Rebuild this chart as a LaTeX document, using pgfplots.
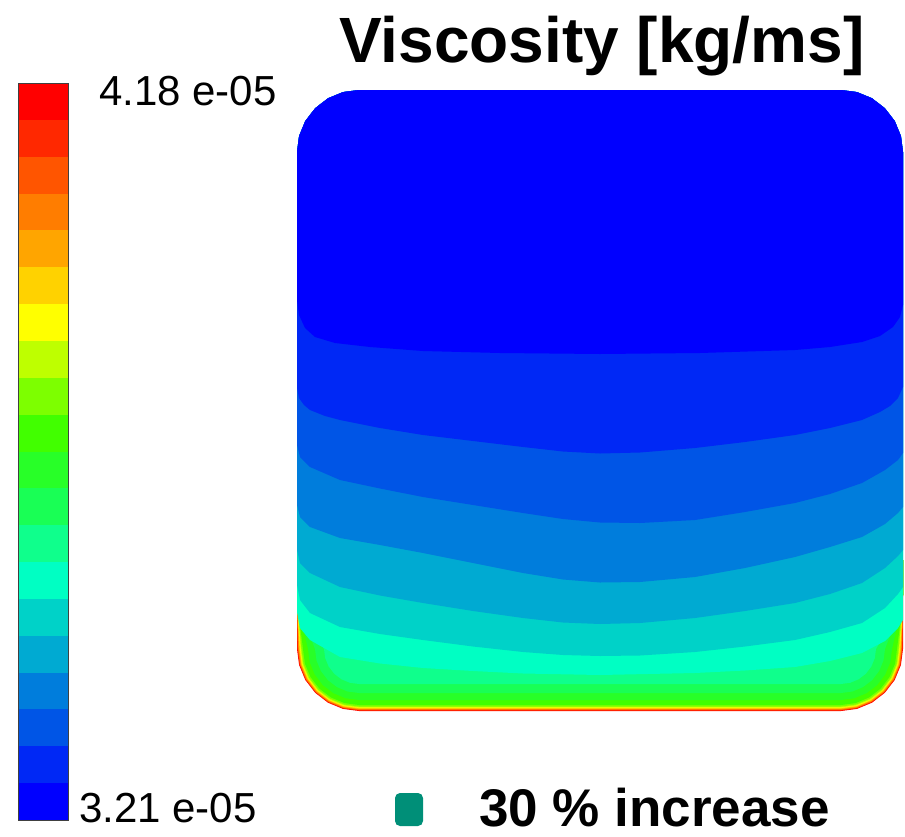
\documentclass[border=0pt]{standalone}
\usepackage{pgfplots}
\pgfplotsset{compat=1.18}
\usepackage{fontspec}
\setmainfont{Liberation Sans}
\definecolor{c0}{RGB}{0,0,255}
\definecolor{c1}{RGB}{0,40,245}
\definecolor{c2}{RGB}{0,85,230}
\definecolor{c3}{RGB}{0,125,220}
\definecolor{c4}{RGB}{0,170,210}
\definecolor{c5}{RGB}{0,210,200}
\definecolor{c6}{RGB}{0,255,195}
\definecolor{c7}{RGB}{15,255,140}
\definecolor{c8}{RGB}{25,255,85}
\definecolor{c9}{RGB}{40,255,40}
\definecolor{c10}{RGB}{65,255,0}
\definecolor{c11}{RGB}{125,255,0}
\definecolor{c12}{RGB}{190,255,0}
\definecolor{c13}{RGB}{255,255,0}
\definecolor{c14}{RGB}{255,210,0}
\definecolor{c15}{RGB}{255,165,0}
\definecolor{c16}{RGB}{255,125,0}
\definecolor{c17}{RGB}{255,85,0}
\definecolor{c18}{RGB}{255,40,0}
\definecolor{c19}{RGB}{255,0,0}
\definecolor{mark}{RGB}{0,143,120}
\begin{document}
\begin{tikzpicture}
\begin{axis}[width=905pt,height=836pt,scale only axis,
  xmin=0,xmax=905,ymin=0,ymax=836,y dir=reverse,hide axis,clip=false]
\path (axis cs:0,0) rectangle (axis cs:905,836);
% ---- colour bar (20 levels, 3.21e-05 ... 4.18e-05)
\addplot[fill=c0,draw=none] coordinates {(18,820)(68,820)(68,783.15)(18,783.15)} -- cycle;
\addplot[fill=c1,draw=none] coordinates {(18,783.15)(68,783.15)(68,746.3)(18,746.3)} -- cycle;
\addplot[fill=c2,draw=none] coordinates {(18,746.3)(68,746.3)(68,709.45)(18,709.45)} -- cycle;
\addplot[fill=c3,draw=none] coordinates {(18,709.45)(68,709.45)(68,672.6)(18,672.6)} -- cycle;
\addplot[fill=c4,draw=none] coordinates {(18,672.6)(68,672.6)(68,635.75)(18,635.75)} -- cycle;
\addplot[fill=c5,draw=none] coordinates {(18,635.75)(68,635.75)(68,598.9)(18,598.9)} -- cycle;
\addplot[fill=c6,draw=none] coordinates {(18,598.9)(68,598.9)(68,562.05)(18,562.05)} -- cycle;
\addplot[fill=c7,draw=none] coordinates {(18,562.05)(68,562.05)(68,525.2)(18,525.2)} -- cycle;
\addplot[fill=c8,draw=none] coordinates {(18,525.2)(68,525.2)(68,488.35)(18,488.35)} -- cycle;
\addplot[fill=c9,draw=none] coordinates {(18,488.35)(68,488.35)(68,451.5)(18,451.5)} -- cycle;
\addplot[fill=c10,draw=none] coordinates {(18,451.5)(68,451.5)(68,414.65)(18,414.65)} -- cycle;
\addplot[fill=c11,draw=none] coordinates {(18,414.65)(68,414.65)(68,377.8)(18,377.8)} -- cycle;
\addplot[fill=c12,draw=none] coordinates {(18,377.8)(68,377.8)(68,340.95)(18,340.95)} -- cycle;
\addplot[fill=c13,draw=none] coordinates {(18,340.95)(68,340.95)(68,304.1)(18,304.1)} -- cycle;
\addplot[fill=c14,draw=none] coordinates {(18,304.1)(68,304.1)(68,267.25)(18,267.25)} -- cycle;
\addplot[fill=c15,draw=none] coordinates {(18,267.25)(68,267.25)(68,230.4)(18,230.4)} -- cycle;
\addplot[fill=c16,draw=none] coordinates {(18,230.4)(68,230.4)(68,193.55)(18,193.55)} -- cycle;
\addplot[fill=c17,draw=none] coordinates {(18,193.55)(68,193.55)(68,156.7)(18,156.7)} -- cycle;
\addplot[fill=c18,draw=none] coordinates {(18,156.7)(68,156.7)(68,119.85)(18,119.85)} -- cycle;
\addplot[fill=c19,draw=none] coordinates {(18,119.85)(68,119.85)(68,83)(18,83)} -- cycle;
\addplot[draw=black!75,line width=1pt] coordinates {(18,83)(68,83)(68,820)(18,820)} -- cycle;
% ---- contour field: thin bands near bottom wall (value high)
\addplot[fill=c19,draw=none] coordinates {(297,560)(297,649)(299.1,665)(305.3,680)(315.2,692.8)(328,702.7)(343,708.9)(359,711)(841,711)(857,708.9)(872,702.7)(884.8,692.8)(894.7,680)(900.9,665)(903,649)(903,560)} -- cycle;
\addplot[fill=c18,draw=none] coordinates {(297,560)(297,595)(297.25,625)(297.5,649)(299.6,664.9)(305.7,679.8)(315.5,692.5)(328.3,702.3)(343.1,708.4)(359,710.5)(841,710.5)(856.9,708.4)(871.3,702.3)(884.5,692.5)(894.3,679.8)(900.4,664.9)(902.5,649)(902.75,625)(903,595)(903,560)} -- cycle;
\addplot[fill=c17,draw=none] coordinates {(297,560)(297,595)(297.45,625)(297.9,649)(300,664.8)(306.1,679.6)(315.8,692.2)(328.5,701.9)(343.2,708)(359,710.1)(841,710.1)(856.8,708)(871.5,701.9)(884.2,692.2)(893.9,679.6)(900,664.8)(902.1,649)(902.55,625)(903,595)(903,560)} -- cycle;
\addplot[fill=c16,draw=none] coordinates {(297,560)(297,595)(297.65,625)(298.3,649)(300.4,664.7)(306.4,679.4)(316.1,691.9)(328.7,701.6)(343.3,707.6)(359,709.7)(841,709.7)(856.7,707.6)(871.4,701.6)(883.9,691.9)(893.6,679.4)(899.6,664.7)(901.7,649)(902.35,625)(903,595)(903,560)} -- cycle;
\addplot[fill=c15,draw=none] coordinates {(297,560)(297,595)(297.9,625)(298.8,649)(300.9,664.6)(306.9,679.1)(316.4,691.6)(328.9,701.1)(343.4,707.2)(359,709.2)(841,709.2)(856.6,707.2)(871.1,701.1)(883.6,691.6)(893.1,679.1)(899.2,664.6)(901.2,649)(902.1,625)(903,595)(903,560)} -- cycle;
\addplot[fill=c14,draw=none] coordinates {(297,560)(297,595)(298.2,625)(299.4,649)(301.4,664.4)(307.4,678.8)(316.9,691.1)(329.2,700.6)(343.6,706.6)(359,708.6)(841,708.6)(856.4,706.6)(870.8,700.6)(883.1,691.1)(892.6,678.8)(898.6,664.4)(900.6,649)(901.8,625)(903,595)(903,560)} -- cycle;
\addplot[fill=c13,draw=none] coordinates {(297,560)(297,595)(298.5,625)(300,649)(302,664.3)(307.9,678.5)(317.3,690.7)(329.5,700.1)(343.7,706)(359,708)(841,708)(856.3,706)(870.5,700.1)(882.7,690.7)(892.1,678.5)(898,664.3)(900,649)(901.5,625)(903,595)(903,560)} -- cycle;
\addplot[fill=c12,draw=none] coordinates {(297,560)(297,595)(298.8,625)(300.6,649)(302.6,664.1)(308.4,678.2)(317.7,690.3)(329.8,699.6)(343.9,705.4)(359,707.4)(841,707.4)(856.1,705.4)(870.2,699.6)(882.3,690.3)(891.6,678.2)(897.4,664.1)(899.4,649)(901.2,625)(903,595)(903,560)} -- cycle;
\addplot[fill=c11,draw=none] coordinates {(297,560)(297,595)(299.25,625)(301.5,649)(303.5,663.9)(309.2,677.8)(318.3,689.7)(330.3,698.8)(344.1,704.5)(359,706.5)(841,706.5)(855.9,704.5)(869.7,698.8)(881.7,689.7)(890.8,677.8)(896.5,663.9)(898.5,649)(900.75,625)(903,595)(903,560)} -- cycle;
\addplot[fill=c10,draw=none] coordinates {(297,560)(297,595)(300,625)(303,649)(304.9,663.5)(310.5,677)(319.4,688.6)(331,697.5)(344.5,703.1)(359,705)(841,705)(855.5,703.1)(869,697.5)(880.6,688.6)(889.5,677)(895.1,663.5)(897,649)(900,625)(903,595)(903,560)} -- cycle;
\addplot[fill=c9,draw=none] coordinates {(297,560)(297,595)(302.5,625)(308,649)(309.7,662.2)(314.8,674.5)(322.9,685.1)(333.5,693.2)(345.8,698.3)(359,700)(841,700)(854.2,698.3)(866.5,693.2)(877.1,685.1)(885.2,674.5)(890.3,662.2)(892,649)(897.5,625)(903,595)(903,560)} -- cycle;
\addplot[fill=c8,draw=none] coordinates {(297,560)(297,595)(306,625)(315,649)(316.5,660.4)(320.9,671)(327.9,680.1)(337,687.1)(347.6,691.5)(359,693)(841,693)(852.4,691.5)(863,687.1)(872.1,680.1)(879.1,671)(883.5,660.4)(885,649)(894,625)(903,595)(903,560)} -- cycle;
\addplot[fill=c7,draw=none] coordinates {(297,560)(297,595)(310.5,625)(324,649)(325.2,658.1)(328.7,666.5)(334.3,673.8)(341.5,679.3)(349.9,682.8)(359,684)(841,684)(850.1,682.8)(858.5,679.3)(865.8,673.8)(871.3,666.5)(874.8,658.1)(876,649)(889.5,625)(903,595)(903,560)} -- cycle;
% ---- contour field: main bands (regions above each contour line)
\addplot[fill=c6,draw=none] coordinates {(297,612)(300,628)(310,640)(340,657)(380,663.5)(423,668)(473,671)(523,673.5)(600,675)(695,673)(745,670.5)(795,667)(830,661)(862,653)(885,641)(898,628)(903,620)
 (903,152)(900.9,136)(894.7,121)(884.8,108.2)(872,98.3)(857,92.1)(841,90)(359,90)(343,92.1)(328,98.3)(315.2,108.2)(305.3,121)(299.1,136)(297,152)} -- cycle;
\addplot[fill=c5,draw=none] coordinates {(297,585)(300,600)(310,613)(340,627)(380,634)(423,640)(473,646.5)(523,652)(563,655)(600,656)(640,655.5)(695,652)(745,646.5)(795,640)(830,632)(862,623)(885,608)(898,594)(903,587)
 (903,152)(900.9,136)(894.7,121)(884.8,108.2)(872,98.3)(857,92.1)(841,90)(359,90)(343,92.1)(328,98.3)(315.2,108.2)(305.3,121)(299.1,136)(297,152)} -- cycle;
\addplot[fill=c4,draw=none] coordinates {(297,550)(300,563)(310,573)(340,587)(380,595.5)(423,603)(473,611)(523,618)(563,622.5)(600,624)(640,623)(695,618)(745,611)(795,603)(830,594)(862,583)(885,568)(898,556)(903,550)
 (903,152)(900.9,136)(894.7,121)(884.8,108.2)(872,98.3)(857,92.1)(841,90)(359,90)(343,92.1)(328,98.3)(315.2,108.2)(305.3,121)(299.1,136)(297,152)} -- cycle;
\addplot[fill=c3,draw=none] coordinates {(297,505)(300,517)(310,527)(340,538)(380,545)(423,553)(473,563)(523,573)(563,579.5)(600,582.5)(640,582)(695,577)(745,568)(795,557)(830,547)(862,537)(885,524)(898,513)(903,507)
 (903,152)(900.9,136)(894.7,121)(884.8,108.2)(872,98.3)(857,92.1)(841,90)(359,90)(343,92.1)(328,98.3)(315.2,108.2)(305.3,121)(299.1,136)(297,152)} -- cycle;
\addplot[fill=c2,draw=none] coordinates {(297,445)(300,457)(310,467)(340,480)(380,488.5)(423,497)(473,505)(523,513)(563,519)(600,522.5)(640,523)(695,520)(745,512)(795,503)(830,494)(862,483)(885,470)(898,460)(903,453)
 (903,152)(900.9,136)(894.7,121)(884.8,108.2)(872,98.3)(857,92.1)(841,90)(359,90)(343,92.1)(328,98.3)(315.2,108.2)(305.3,121)(299.1,136)(297,152)} -- cycle;
\addplot[fill=c1,draw=none] coordinates {(297,388)(299,398)(304,405)(310,410)(325,416)(340,420)(380,428)(423,435)(473,441)(523,447)(563,451.5)(600,453.5)(640,452.5)(695,448)(745,442)(795,435)(830,428)(862,420)(880,412)(890,406)(898,398)(903,387)
 (903,152)(900.9,136)(894.7,121)(884.8,108.2)(872,98.3)(857,92.1)(841,90)(359,90)(343,92.1)(328,98.3)(315.2,108.2)(305.3,121)(299.1,136)(297,152)} -- cycle;
\addplot[fill=c0,draw=none] coordinates {(297,300)(299,315)(305,328)(315,337)(335,343)(370,347)(423,351)(500,353)(600,354)(700,353)(795,350)(830,347)(862,342)(880,336)(893,327)(900,317)(903,305)
 (903,152)(900.9,136)(894.7,121)(884.8,108.2)(872,98.3)(857,92.1)(841,90)(359,90)(343,92.1)(328,98.3)(315.2,108.2)(305.3,121)(299.1,136)(297,152)} -- cycle;
% ---- legend marker
\addplot[fill=mark,draw=none,rounded corners=5pt] coordinates {(395,793)(423,793)(423,826)(395,826)} -- cycle;
% ---- texts
\node[anchor=base west,inner sep=0pt,font=\fontsize{64}{72}\selectfont\bfseries] at (axis cs:339,62) {Viscosity [kg/ms]};
\node[anchor=base west,inner sep=0pt,font=\fontsize{42}{48}\selectfont] at (axis cs:99,105) {4.18 e-05};
\node[anchor=base west,inner sep=0pt,font=\fontsize{42}{48}\selectfont] at (axis cs:79,822) {3.21 e-05};
\node[anchor=base west,inner sep=0pt,font=\fontsize{53}{60}\selectfont\bfseries] at (axis cs:479,826) {30 \% increase};
\end{axis}
\end{tikzpicture}
\end{document}
